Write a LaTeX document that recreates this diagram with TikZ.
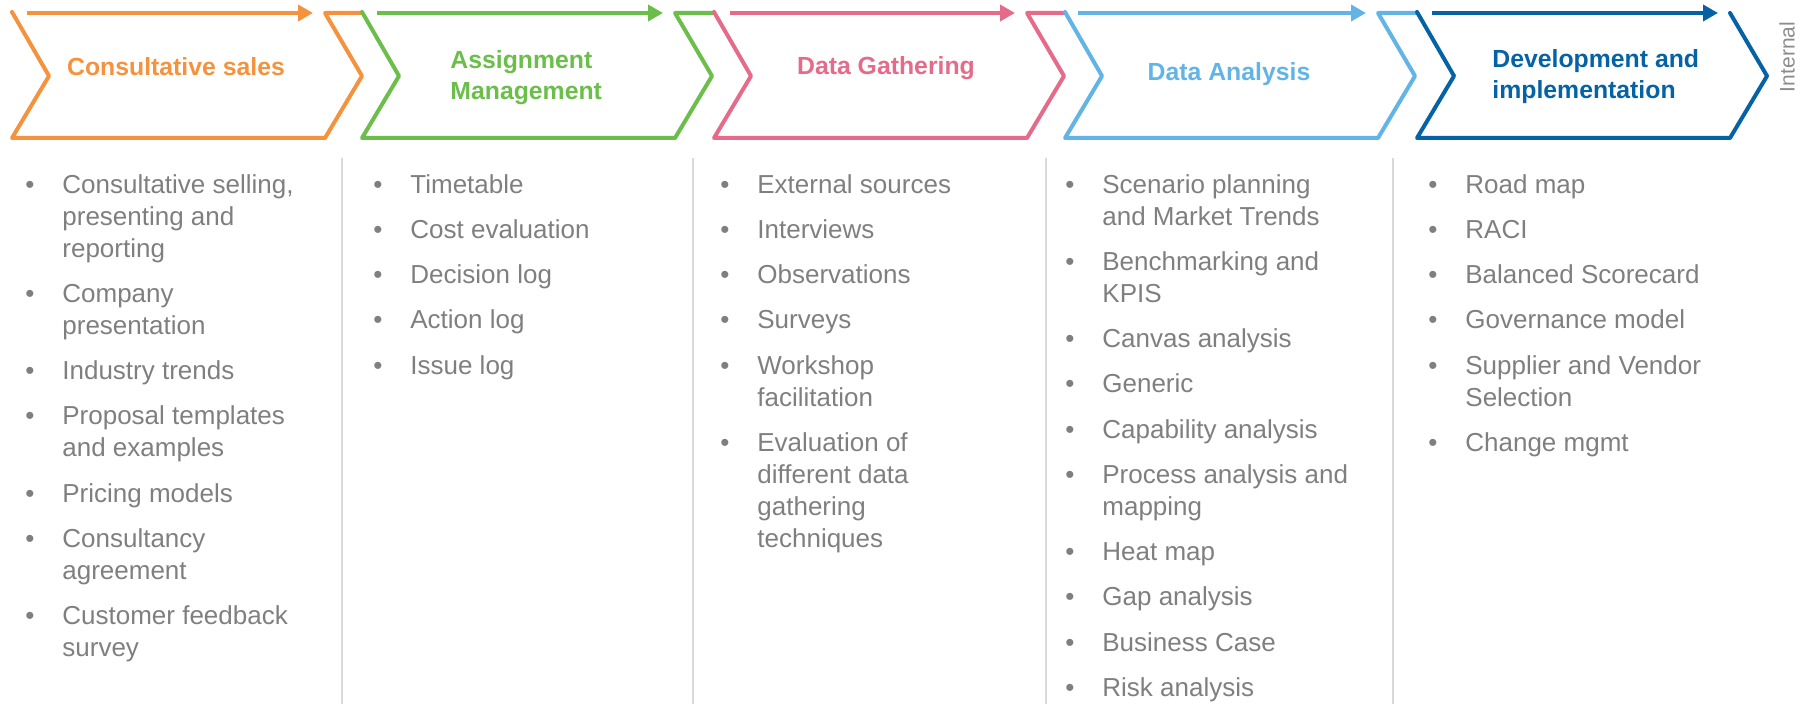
\documentclass[tikz,border=0pt]{standalone}
\usepackage{fontspec}
\setmainfont{Liberation Sans}
\usepackage{tikz}
\usetikzlibrary{arrows.meta,positioning}

\definecolor{salesorange}{HTML}{F5923E}
\definecolor{assigngreen}{HTML}{6BBE4A}
\definecolor{gatherpink}{HTML}{E66A8A}
\definecolor{analysisblue}{HTML}{62B4E6}
\definecolor{devblue}{HTML}{0563A5}
\definecolor{textgray}{HTML}{7F7F7F}
\definecolor{sepgray}{HTML}{D9D9D9}
\definecolor{labelgray}{HTML}{8C8C8C}

\newcommand{\itemdot}{\llap{\textbullet\hspace{14pt}}}

\begin{document}
\begin{tikzpicture}[x=0.5pt,y=-0.5pt,>={Triangle[length=7.5pt,width=8pt]},
	chev/.style={line width=2pt,line join=round,line cap=round},
	flow/.style={->,line width=2.2pt},
	stagetitle/.style={font=\fontsize{12.4}{15.5}\selectfont\bfseries,inner sep=0pt,align=left},
	listitem/.style={font=\fontsize{13}{16}\selectfont,text=textgray,inner sep=0pt,align=left,anchor=north west},
	nextitem/.style={below=6.2pt of #1.south west,anchor=north west},
	colsep/.style={line width=1pt,draw=sepgray}]
		\useasboundingbox (0,0) rectangle (1802,704);

		% chevrons with the flow arrow on top
		\draw[chev,salesorange] (12,12) -- (49,76) -- (12,138) -- (325,138) -- (362,76) -- (325,13) -- (362,13); \draw[flow,salesorange] (27,13) -- (313,13);
		\draw[chev,assigngreen] (362,12) -- (399,76) -- (362,138) -- (675,138) -- (712,76) -- (675,13) -- (714,13); \draw[flow,assigngreen] (377,13) -- (663,13);
		\draw[chev,gatherpink] (714,12) -- (751,76) -- (714,138) -- (1027,138) -- (1064,76) -- (1027,13) -- (1065,13); \draw[flow,gatherpink] (730,13) -- (1015,13);
		\draw[chev,analysisblue] (1065,12) -- (1102,76) -- (1065,138) -- (1378,138) -- (1415,76) -- (1378,13) -- (1417,13); \draw[flow,analysisblue] (1078,13) -- (1366,13);
		\draw[chev,devblue] (1417,12) -- (1454,76) -- (1417,138) -- (1730,138) -- (1767,76) -- (1730,13); \draw[flow,devblue] (1432,13) -- (1718,13);

		\node[stagetitle,text=salesorange,anchor=base] (t1) at (176,76) {Consultative sales};
		\node[stagetitle,text=assigngreen,anchor=north west] (t2) at (450,46) {\strut Assignment\\Management};
		\node[stagetitle,text=gatherpink,anchor=base] (t3) at (886,75) {Data Gathering};
		\node[stagetitle,text=analysisblue,anchor=base] (t4) at (1229,81) {Data Analysis};
		\node[stagetitle,text=devblue,anchor=north west] (t5) at (1492,45) {\strut Development and\\implementation};

		\node[rotate=90,font=\fontsize{10.5}{12}\selectfont,text=labelgray] (intl) at (1787,57) {Internal};

		% column separators
		\draw[colsep] (342,158) -- (342,704); \draw[colsep] (693,158) -- (693,704); \draw[colsep] (1046,158) -- (1046,704); \draw[colsep] (1393,158) -- (1393,704);

		% consultative sales
		\node[listitem] (c1a) at (62,170.6) {\itemdot\strut Consultative selling,\\presenting and\\reporting\strut};
		\node[listitem,nextitem=c1a] (c1b) {\itemdot\strut Company\\presentation\strut};
		\node[listitem,nextitem=c1b] (c1c) {\itemdot\strut Industry trends\strut};
		\node[listitem,nextitem=c1c] (c1d) {\itemdot\strut Proposal templates\\and examples\strut};
		\node[listitem,nextitem=c1d] (c1e) {\itemdot\strut Pricing models\strut};
		\node[listitem,nextitem=c1e] (c1f) {\itemdot\strut Consultancy\\agreement\strut};
		\node[listitem,nextitem=c1f] (c1g) {\itemdot\strut Customer feedback\\survey\strut};

		% assignment management
		\node[listitem] (c2a) at (410,170.6) {\itemdot\strut Timetable\strut};
		\node[listitem,nextitem=c2a] (c2b) {\itemdot\strut Cost evaluation\strut};
		\node[listitem,nextitem=c2b] (c2c) {\itemdot\strut Decision log\strut};
		\node[listitem,nextitem=c2c] (c2d) {\itemdot\strut Action log\strut};
		\node[listitem,nextitem=c2d] (c2e) {\itemdot\strut Issue log\strut};

		% data gathering
		\node[listitem] (c3a) at (757,170.6) {\itemdot\strut External sources\strut};
		\node[listitem,nextitem=c3a] (c3b) {\itemdot\strut Interviews\strut};
		\node[listitem,nextitem=c3b] (c3c) {\itemdot\strut Observations\strut};
		\node[listitem,nextitem=c3c] (c3d) {\itemdot\strut Surveys\strut};
		\node[listitem,nextitem=c3d] (c3e) {\itemdot\strut Workshop\\facilitation\strut};
		\node[listitem,nextitem=c3e] (c3f) {\itemdot\strut Evaluation of\\different data\\gathering\\techniques\strut};

		% data analysis
		\node[listitem] (c4a) at (1102,170.6) {\itemdot\strut Scenario planning\\and Market Trends\strut};
		\node[listitem,nextitem=c4a] (c4b) {\itemdot\strut Benchmarking and\\KPIS\strut};
		\node[listitem,nextitem=c4b] (c4c) {\itemdot\strut Canvas analysis\strut};
		\node[listitem,nextitem=c4c] (c4d) {\itemdot\strut Generic\strut};
		\node[listitem,nextitem=c4d] (c4e) {\itemdot\strut Capability analysis\strut};
		\node[listitem,nextitem=c4e] (c4f) {\itemdot\strut Process analysis and\\mapping\strut};
		\node[listitem,nextitem=c4f] (c4g) {\itemdot\strut Heat map\strut};
		\node[listitem,nextitem=c4g] (c4h) {\itemdot\strut Gap analysis\strut};
		\node[listitem,nextitem=c4h] (c4i) {\itemdot\strut Business Case\strut};
		\node[listitem,nextitem=c4i] (c4j) {\itemdot\strut Risk analysis\strut};

		% development and implementation
		\node[listitem] (c5a) at (1465,170.6) {\itemdot\strut Road map\strut};
		\node[listitem,nextitem=c5a] (c5b) {\itemdot\strut RACI\strut};
		\node[listitem,nextitem=c5b] (c5c) {\itemdot\strut Balanced Scorecard\strut};
		\node[listitem,nextitem=c5c] (c5d) {\itemdot\strut Governance model\strut};
		\node[listitem,nextitem=c5d] (c5e) {\itemdot\strut Supplier and Vendor\\Selection\strut};
		\node[listitem,nextitem=c5e] (c5f) {\itemdot\strut Change mgmt\strut};
	\end{tikzpicture}
\end{document}
